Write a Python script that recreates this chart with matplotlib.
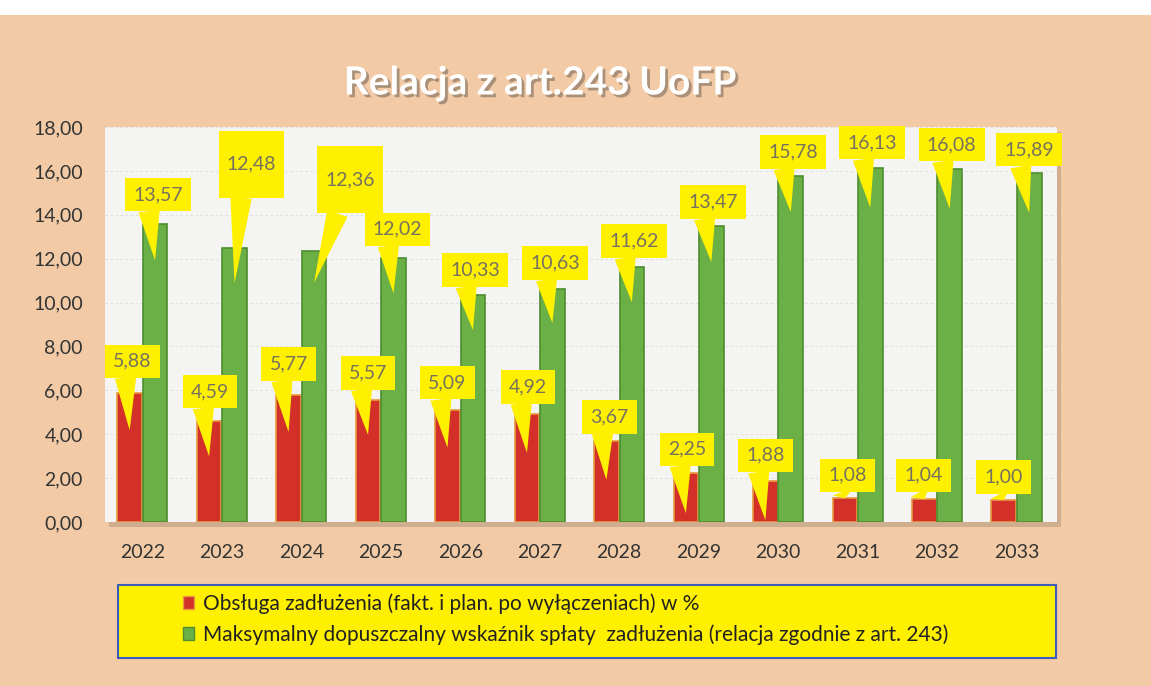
import numpy as np
import matplotlib
matplotlib.use('Agg')
import matplotlib.pyplot as plt
import matplotlib.patheffects as pe
from matplotlib.patches import Rectangle, Patch

plt.rcParams['font.family'] = ['Lato', 'DejaVu Sans']

# dane
years = ['2022', '2023', '2024', '2025', '2026', '2027',
         '2028', '2029', '2030', '2031', '2032', '2033']
debt_service = [5.88, 4.59, 5.77, 5.57, 5.09, 4.92, 3.67, 2.25, 1.88, 1.08, 1.04, 1.00]
max_ratio = [13.57, 12.48, 12.36, 12.02, 10.33, 10.63, 11.62, 13.47, 15.78, 16.13, 16.08, 15.89]
y_ticks = [0, 2, 4, 6, 8, 10, 12, 14, 16, 18]

title = 'Relacja z art.243 UoFP'
label_red = 'Obsługa zadłużenia (fakt. i plan. po wyłączeniach) w %'
label_green = 'Maksymalny dopuszczalny wskaźnik spłaty  zadłużenia (relacja zgodnie z art. 243)'

# polozenie dymkow: o ile ponizej wierzcholka slupka jest grot, przesuniecie ramki w px
red_drop = [1.7, 1.6, 1.67, 1.6, 1.7, 1.77, 1.75, 1.85, 1.8, 0, 0, 0]
red_off = [(3, 69), (1, 65), (0, 68), (0, 62), (0, 65), (1, 66),
           (3, 63), (1, 64), (0, 65), (3, 23), (-1, 24), (0, 23)]
green_drop = [1.65, 1.6, 1.46, 1.6, 1.58, 1.56, 1.6, 1.62, 1.65, 1.8, 1.8, 1.8]
green_off = [(3, 66), (17, 119), (36, 103), (4, 64), (2, 60), (3, 60),
             (2, 61), (2, 60), (2, 60), (2, 65), (2, 64), (0, 63)]
green_tall = [False, True, True] + [False] * 9

BG = '#F2CBA6'
YEL = '#FFF000'
RED = '#D3302A'
GREEN = '#6BB046'
W, H = 1151, 686


def fmt(v):
    return f'{v:.2f}'.replace('.', ',')


fig = plt.figure(figsize=(W / 100, H / 100), dpi=100, facecolor=BG)
fig.add_artist(Rectangle((0, 1 - 15 / H), 1, 15 / H, transform=fig.transFigure,
                         fc='white', ec='none', zorder=0))

# cien pod obszarem wykresu
fig.add_artist(Rectangle((109 / W, 1 - 527 / H), (1057 - 105) / W, (522 - 127) / H,
                         transform=fig.transFigure, fc='#B89A80', ec='none',
                         alpha=0.6, zorder=0))

ax = fig.add_axes([105 / W, 1 - 522 / H, (1057 - 105) / W, (522 - 127) / H])
ax.set_facecolor('#F4F4F2')

x = np.arange(len(years))
w = 0.31
ax.bar(x - 0.16, debt_service, w, color=RED, edgecolor='#E79A3C', linewidth=1.2, zorder=3)
ax.bar(x + 0.16, max_ratio, w, color=GREEN, edgecolor='#4E8D30', linewidth=1.2, zorder=3)


def callout(xc, v, drop, off, tall=False):
    txt = fmt(v)
    if tall:
        txt = '\n' + txt + '\n'
    ax.annotate(txt, xy=(xc, v - drop), xytext=off, textcoords='offset pixels',
                ha='center', va='center', fontsize=14, color='#75725F', linespacing=1.0,
                bbox=dict(boxstyle='square,pad=0.42', fc=YEL, ec='none'),
                arrowprops=dict(arrowstyle='wedge,tail_width=1.1,shrink_factor=0.5',
                                fc=YEL, ec='none', shrinkA=0, shrinkB=0, relpos=(0.3, 0.0)),
                zorder=6, annotation_clip=False)


for xi, v, d, o in zip(x - 0.16, debt_service, red_drop, red_off):
    callout(xi, v, d, o)
for xi, v, d, o, t in zip(x + 0.16, max_ratio, green_drop, green_off, green_tall):
    callout(xi, v, d, o, t)

ax.set_xlim(-0.47, 11.51)
ax.set_ylim(0, 18)
ax.set_xticks(x, years)
ax.set_yticks(y_ticks, [fmt(t) for t in y_ticks])
ax.tick_params(length=0, labelsize=14, colors='#333333', pad=16)
ax.yaxis.grid(True, color='#DCDCDC', lw=0.6, ls=(0, (3, 3)))
ax.set_axisbelow(True)
for s in ax.spines.values():
    s.set_visible(False)

fig.text(540 / W, 1 - 83 / H, title, ha='center', va='center', fontsize=28,
         fontweight='bold', color='white',
         path_effects=[pe.withSimplePatchShadow(offset=(2, -2), shadow_rgbFace='#7A6A5A', alpha=0.6)])

# legenda
fig.add_artist(Rectangle((118 / W, 1 - 658 / H), (1056 - 118) / W, (658 - 585) / H,
                         transform=fig.transFigure, fc=YEL, ec='#3B5CB8', lw=1.5, zorder=1))
handles = [Patch(fc=RED, ec='#E79A3C'), Patch(fc=GREEN, ec='#4E8D30')]
fig.legend(handles, [label_red, label_green], loc='upper left',
           bbox_to_anchor=(183 / W, 1 - 593 / H), frameon=False, fontsize=15,
           handlelength=0.55, handleheight=0.55, handletextpad=0.4,
           labelspacing=0.5, borderpad=0, borderaxespad=0, labelcolor='#222222')

fig.savefig('out.png', dpi=100, facecolor=BG)
